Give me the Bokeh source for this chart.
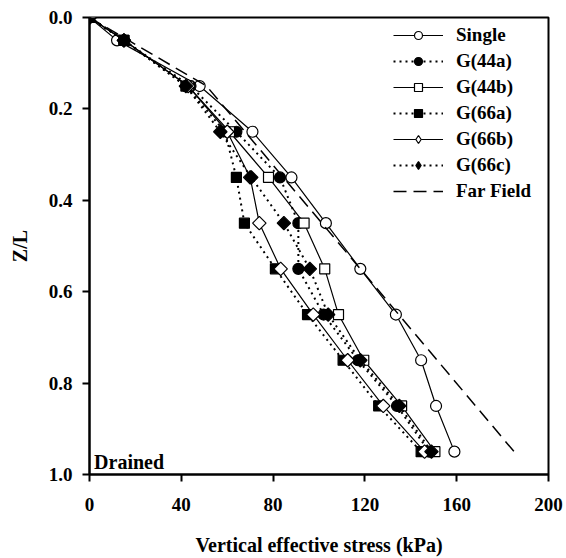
import numpy as np
from bokeh.plotting import figure
from bokeh.models import Range1d, FixedTicker, Legend, LegendItem, Label, CustomJSTickFormatter
from bokeh.embed import file_html
from bokeh.resources import INLINE

# Depth ratio Z/L for every measured profile point
z = [0.0, 0.05, 0.15, 0.25, 0.35, 0.45, 0.55, 0.65, 0.75, 0.85, 0.95]

# Vertical effective stress (kPa) along each pile configuration
single = [0, 12, 48, 71, 88, 103, 118, 133.5, 144.5, 151, 159]
g44a = [0, 15, 44, 64, 83, 91, 91, 102, 117, 134, 148]
g44b = [0, 15, 43, 61, 78, 93.5, 102.5, 108.5, 119.5, 136, 150.5]
g66a = [0, 15, 42, 59, 64, 67.5, 81, 95, 110.5, 126, 144.5]
g66b = [0, 15, 43, 60, 70, 74, 83.3, 97.5, 112.5, 128, 146]
g66c = [0, 15, 42, 57, 70.5, 84.7, 96, 104, 118, 135, 149]

# Far-field profile
ff_z = [0.0, 0.15, 0.95]
ff_s = [0, 51, 185]

x_ticks = [0, 40, 80, 120, 160, 200]
y_ticks = [0.0, 0.2, 0.4, 0.6, 0.8, 1.0]

FONT = "Liberation Serif"

p = figure(width=566, height=558, output_backend="svg", toolbar_location=None,
           x_range=Range1d(0, 200), y_range=Range1d(1.0, 0.0),
           min_border_left=89, min_border_right=18, min_border_top=17, min_border_bottom=82)
p.grid.visible = False
p.outline_line_color = "black"
p.outline_line_width = 2
p.background_fill_color = "white"
p.border_fill_color = "white"

for ax in (p.xaxis[0], p.yaxis[0]):
    ax.axis_line_width = 2
    ax.major_tick_line_width = 2
    ax.major_tick_out = 7
    ax.major_tick_in = 0
    ax.minor_tick_line_color = None
    ax.major_label_text_font = FONT
    ax.major_label_text_font_style = "bold"
    ax.major_label_text_font_size = "19px"
    ax.major_label_text_color = "black"
    ax.axis_label_text_font = FONT
    ax.axis_label_text_font_style = "bold"
    ax.axis_label_text_font_size = "20px"
    ax.axis_label_text_color = "black"

p.xaxis.ticker = FixedTicker(ticks=x_ticks)
p.yaxis.ticker = FixedTicker(ticks=y_ticks)
p.yaxis.formatter = CustomJSTickFormatter(code="return tick.toFixed(1);")
p.xaxis.axis_label = "Vertical effective stress (kPa)"
p.yaxis.axis_label = "Z/L"
p.xaxis.major_label_standoff = 16
p.xaxis.axis_label_standoff = 20
p.yaxis.major_label_standoff = 10
p.yaxis.axis_label_standoff = 15

DOT = "2 4"
series = [
    ("Single", single, "solid", "circle", "white", 0),
    ("G(44a)", g44a, DOT, "circle", "black", 0),
    ("G(44b)", g44b, "solid", "square", "white", 0),
    ("G(66a)", g66a, DOT, "square", "black", 0),
    ("G(66b)", g66b, "solid", "square", "white", np.pi / 4),
    ("G(66c)", g66c, DOT, "square", "black", np.pi / 4),
]

items = []
for name, vals, dash, marker, fill, ang in series:
    lw = 2 if dash == DOT else 1.2
    ln = p.line(vals, z, line_color="black", line_width=lw, line_dash=dash)
    size = 9.5 if ang else (10 if marker == "square" else 11)
    mk = p.scatter(vals, z, marker=marker, size=size, angle=ang,
                   fill_color=fill, line_color="black", line_width=1.2)
    key = mk
    if ang:
        # legend swatches ignore marker rotation, so use a diamond swatch there
        key = p.scatter(vals, z, marker="diamond", size=15, fill_color=fill,
                        line_color="black", line_width=1.2, visible=False)
    items.append(LegendItem(label=name, renderers=[ln, key]))

ff = p.line(ff_s, ff_z, line_color="black", line_width=1.5, line_dash="13 7")
items.append(LegendItem(label="Far Field", renderers=[ff]))

legend = Legend(items=items, location=(304, 272), orientation="vertical",
                glyph_width=50, glyph_height=20, label_height=20, spacing=4,
                label_standoff=13, padding=0, margin=0,
                border_line_alpha=0, background_fill_alpha=0,
                label_text_font=FONT, label_text_font_style="bold",
                label_text_font_size="19px", label_text_color="black")
p.add_layout(legend)

p.add_layout(Label(x=2, y=0.972, text="Drained", text_font=FONT,
                   text_font_style="bold", text_font_size="20px",
                   text_baseline="alphabetic", text_color="black"))

open("out.html", "w").write(file_html(p, INLINE))
